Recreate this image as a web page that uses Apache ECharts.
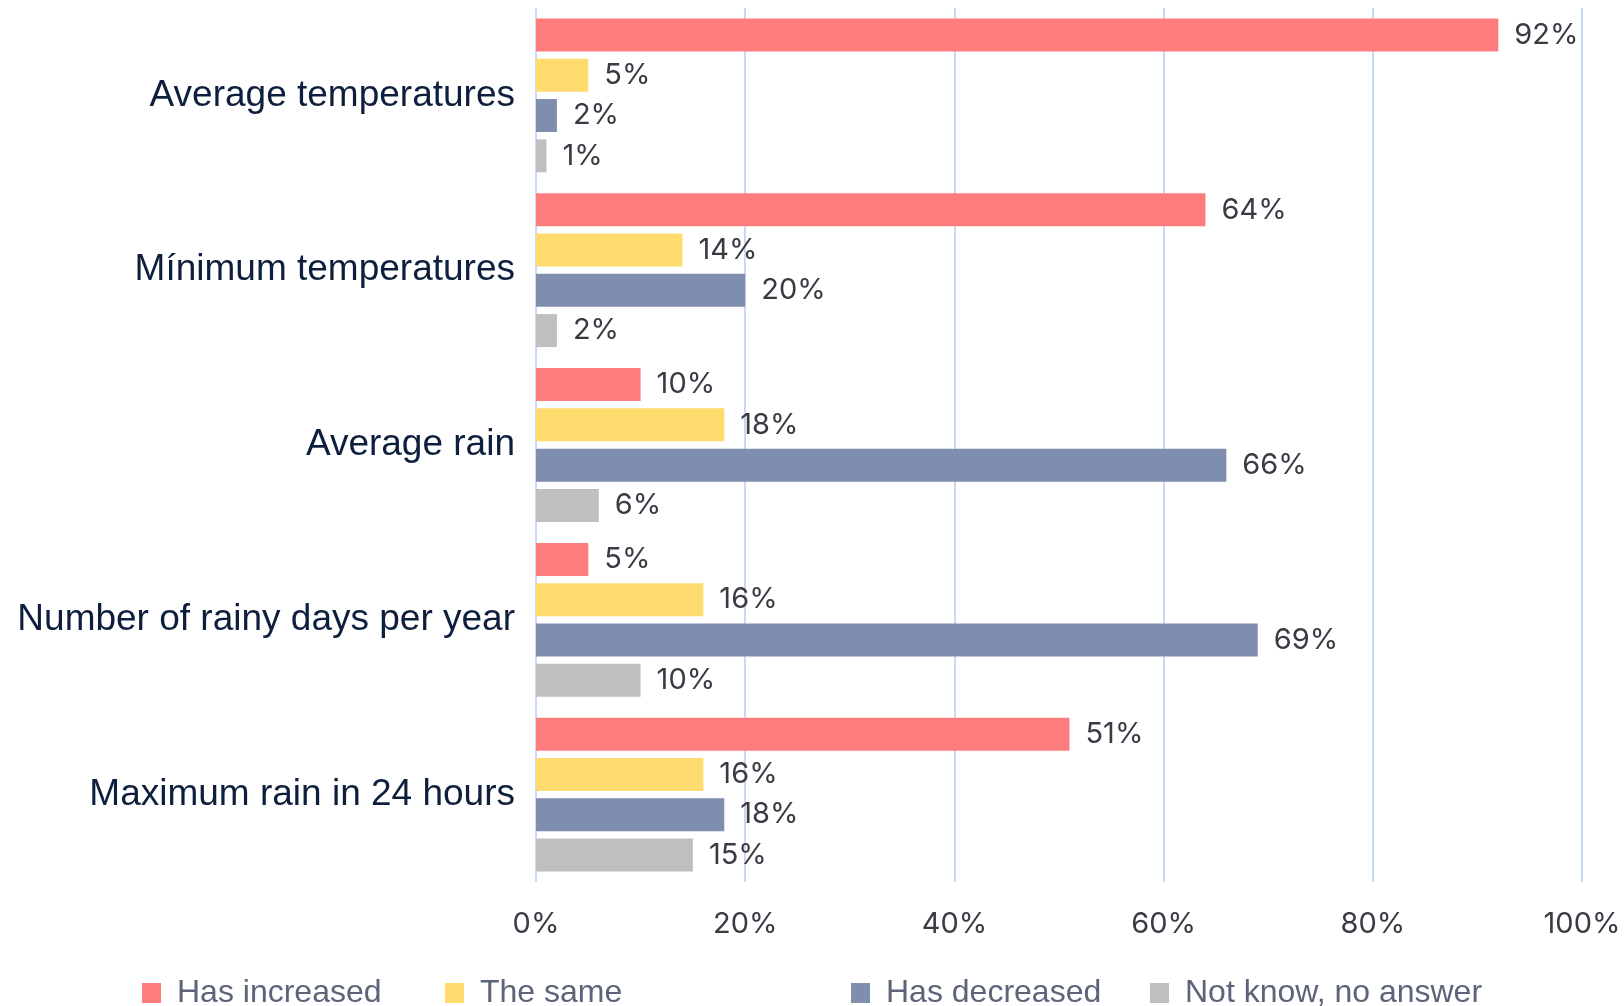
<!DOCTYPE html>
<html>
<head>
<meta charset="utf-8">
<script src="https://cdn.jsdelivr.net/npm/echarts@6/dist/echarts.min.js"></script>
<style>
  html, body { margin: 0; padding: 0; background: #fff; }
  #myChart { width: 1624px; height: 1006px; }
</style>
</head>
<body>
<div id="myChart"></div>
<script>
var categories = ['Average temperatures', 'Mínimum temperatures', 'Average rain', 'Number of rainy days per year', 'Maximum rain in 24 hours']
var seriesNames = ['Has increased', 'The same', 'Has decreased', 'Not know, no answer']
var increased = [92, 64, 10, 5, 51]
var same = [5, 14, 18, 16, 16]
var decreased = [2, 20, 66, 69, 18]
var notKnow = [1, 2, 6, 10, 15]
var colors = ['#FF7C7C', '#FFDB6E', '#7F8DAF', '#BFBFBF']
var legendLeft = [137, 440, 846, 1145]

var myChart = echarts.init(document.getElementById('myChart'))

var valueFont = 'Inter, sans-serif'
function makeSeries(name, data, color) {
  return {
    name: name,
    type: 'bar',
    data: data,
    barWidth: 33,
    barGap: '22%',
    itemStyle: { color: color },
    label: {
      show: true,
      position: 'right',
      distance: 16,
      formatter: '{c}%',
      fontFamily: valueFont,
      fontSize: 29,
      color: '#3a3a44'
    }
  }
}

var allData = [increased, same, decreased, notKnow]
var option = {
  animation: false,
  grid: { left: 536, right: 42, top: 8, bottom: 124 },
  legend: seriesNames.map(function (n, i) {
    return {
      data: [n],
      left: legendLeft[i],
      top: 972,
      itemWidth: 19,
      itemHeight: 20,
      icon: 'rect',
      textStyle: {
        fontFamily: 'Liberation Sans, Arial',
        fontSize: 32,
        color: '#5B6478',
        padding: [0, 0, 0, 11]
      }
    }
  }),
  xAxis: {
    type: 'value',
    min: 0,
    max: 100,
    interval: 20,
    axisLine: { show: false },
    axisTick: { show: false },
    splitLine: { lineStyle: { color: '#C9D9F2', width: 2 } },
    axisLabel: {
      formatter: '{value}%',
      margin: 28,
      fontFamily: valueFont,
      fontSize: 29,
      color: '#3a3a44'
    }
  },
  yAxis: {
    type: 'category',
    inverse: true,
    data: categories,
    axisLine: { show: false },
    axisTick: { show: false },
    axisLabel: {
      margin: 21,
      fontFamily: 'Liberation Sans, Arial',
      fontSize: 37,
      color: '#0E1F3D'
    }
  },
  series: seriesNames.map(function (n, i) { return makeSeries(n, allData[i], colors[i]) })
}
myChart.setOption(option)
</script>
</body>
</html>
